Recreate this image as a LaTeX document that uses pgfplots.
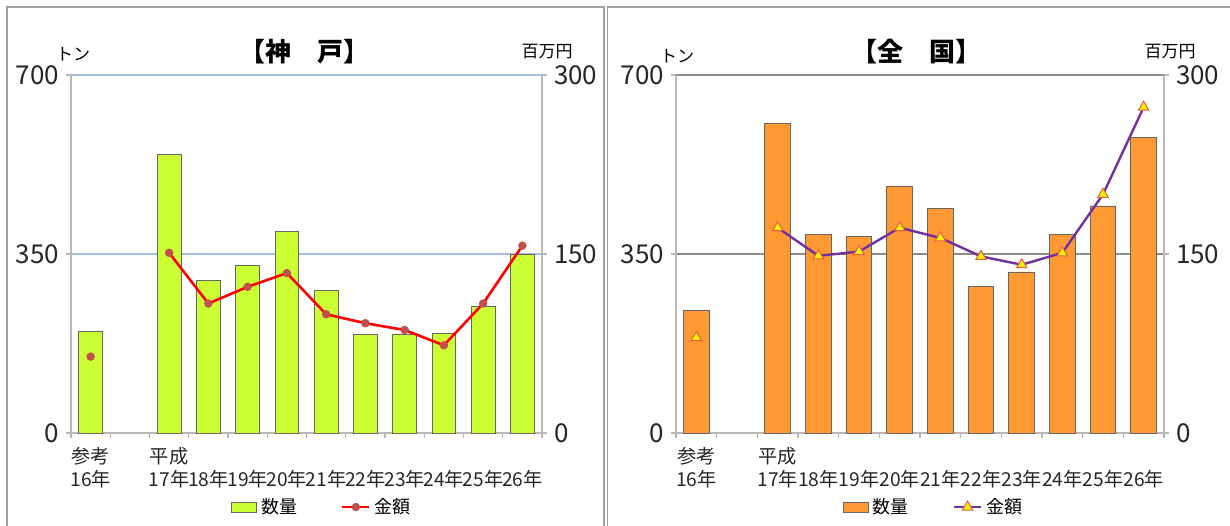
\documentclass[border=0pt]{standalone}
\usepackage{fontspec}
\setmainfont{Noto Sans CJK JP}
\usepackage{pgfplots}
\pgfplotsset{compat=1.18}
\definecolor{kbar}{HTML}{CCFF33}
\definecolor{nbar}{HTML}{FF9933}
\definecolor{kmark}{HTML}{C0504D}
\definecolor{kgrid}{HTML}{A7BFDE}
\definecolor{npurple}{HTML}{7030A0}
\definecolor{ntri}{HTML}{E0604A}
\definecolor{axgray}{HTML}{B8B8B8}
\definecolor{ngrid}{HTML}{8C8C8C}
\definecolor{framegray}{HTML}{A0A0A0}

\pgfplotsset{
  panel/.style={
    scale only axis, height=179pt, ymin=0, xmin=-0.5, xmax=11.5,
    tick align=outside, major tick length=2.5pt,
    /pgf/number format/assume math mode=true,
    axis line style={draw=axgray, line width=0.6pt},
    tick style={draw=axgray, line width=0.6pt},
    yticklabel style={font=\fontsize{13}{14}\selectfont, text=black!85},
  },
  catlabels/.style={
    xtick={-0.5,0.5,...,11.5},
    xticklabels={{参考\\16年},{},{平成\\17年},{\phantom{平成}\\18年},{\phantom{平成}\\19年},{\phantom{平成}\\20年},{\phantom{平成}\\21年},{\phantom{平成}\\22年},{\phantom{平成}\\23年},{\phantom{平成}\\24年},{\phantom{平成}\\25年},{\phantom{平成}\\26年},{}},
    xticklabel style={xshift=#1, align=center, anchor=north, yshift=-1pt, inner xsep=0pt, font=\fontsize{9.6}{11.5}\selectfont, text=black!85},
  },
  lgd/.style={
    legend style={at={(#1,-0.207)}, anchor=center, draw=none, fill=none,
      legend columns=2, font=\fontsize{9}{10}\selectfont,
      /tikz/every even column/.append style={column sep=20pt}},
  },
  shortline/.style={legend image code/.code={\draw[mark repeat=2,mark phase=2,##1] plot coordinates {(0pt,0pt) (6.75pt,0pt) (13.5pt,0pt)};}},
  kbox/.style={legend image code/.code={\draw[fill=kbar, draw=black!60, line width=0.4pt] (0pt,-2.5pt) rectangle (12.5pt,2.5pt);}},
  nbox/.style={legend image code/.code={\draw[fill=nbar, draw=black!60, line width=0.4pt] (0pt,-2.5pt) rectangle (12.5pt,2.5pt);}},
}

\begin{document}
\begin{tikzpicture}
\useasboundingbox (0,0) rectangle (615pt,262.5pt);
\draw[framegray, line width=0.8pt] (3.5pt,-10pt) rectangle (302pt,259pt);
\draw[framegray, line width=0.8pt] (303.8pt,-10pt) rectangle (625pt,259pt);

% ---------------- Kobe ----------------
\begin{axis}[panel, at={(35.5pt,46pt)}, anchor=south west, width=235.5pt,
  ymax=700, ytick={0,350,700}, axis y line*=left, axis x line*=bottom,
  catlabels=9.81pt,
  ymajorgrids, grid style={draw=kgrid, line width=0.6pt},
  ybar, bar width=0.6]
\addplot[fill=kbar, draw=black!60, line width=0.4pt] coordinates {
 (0,198) (2,545) (3,298) (4,327) (5,394) (6,278) (7,192) (8,192) (9,194) (10,247) (11,349)};
\end{axis}
\begin{axis}[panel, at={(35.5pt,46pt)}, anchor=south west, width=235.5pt,
  ymax=300, ytick={0,150,300}, axis y line*=right, axis x line=none,
  lgd=0.535]
\addlegendimage{kbox}
\addlegendentry{数量}
\addplot[color=red, line width=1.3pt, mark=*, mark size=1.9pt, mark options={fill=kmark, draw=kmark, line width=0.4pt}, unbounded coords=jump, shortline]
 coordinates {
 (0,64) (1,nan) (2,151) (3,108.5) (4,122.5) (5,134) (6,99.5) (7,92) (8,86.3) (9,73.5) (10,108.5) (11,157)};
\addlegendentry{金額}
\end{axis}

% ---------------- National ----------------
\begin{axis}[panel, at={(338pt,46pt)}, anchor=south west, width=244pt,
  ymax=700, ytick={0,350,700}, axis y line*=left, axis x line*=bottom,
  catlabels=10.17pt,
  ymajorgrids, grid style={draw=ngrid, line width=0.6pt},
  ybar, bar width=0.63]
\addplot[fill=nbar, draw=black!60, line width=0.4pt] coordinates {
 (0,240) (2,605) (3,389) (4,384) (5,483) (6,439) (7,287) (8,315) (9,388) (10,444) (11,578)};
\end{axis}
\begin{axis}[panel, at={(338pt,46pt)}, anchor=south west, width=244pt,
  ymax=300, ytick={0,150,300}, axis y line*=right, axis x line=none,
  lgd=0.53, clip=false]
\addlegendimage{nbox}
\addlegendentry{数量}
\addplot[color=npurple, line width=1.2pt, mark=triangle*, mark size=3pt, mark options={fill=yellow, draw=ntri, line width=0.5pt}, unbounded coords=jump, shortline]
 coordinates {
 (0,80) (1,nan) (2,172) (3,148.5) (4,152) (5,172) (6,163.5) (7,148) (8,141) (9,151) (10,200) (11,273)};
\addlegendentry{金額}
\end{axis}

% titles and unit labels
\node[font=\fontsize{13}{14}\selectfont\bfseries] at (152pt,236.5pt) {【神　戸】};
\node[font=\fontsize{13}{14}\selectfont\bfseries] at (458pt,236.5pt) {【全　国】};
\node[font=\fontsize{8.5}{10}\selectfont] at (36.5pt,235.5pt) {トン};
\node[font=\fontsize{8.5}{10}\selectfont] at (273.5pt,236.5pt) {百万円};
\node[font=\fontsize{8.5}{10}\selectfont] at (338.5pt,234.5pt) {トン};
\node[font=\fontsize{8.5}{10}\selectfont] at (585pt,236.5pt) {百万円};
\end{tikzpicture}
\end{document}
